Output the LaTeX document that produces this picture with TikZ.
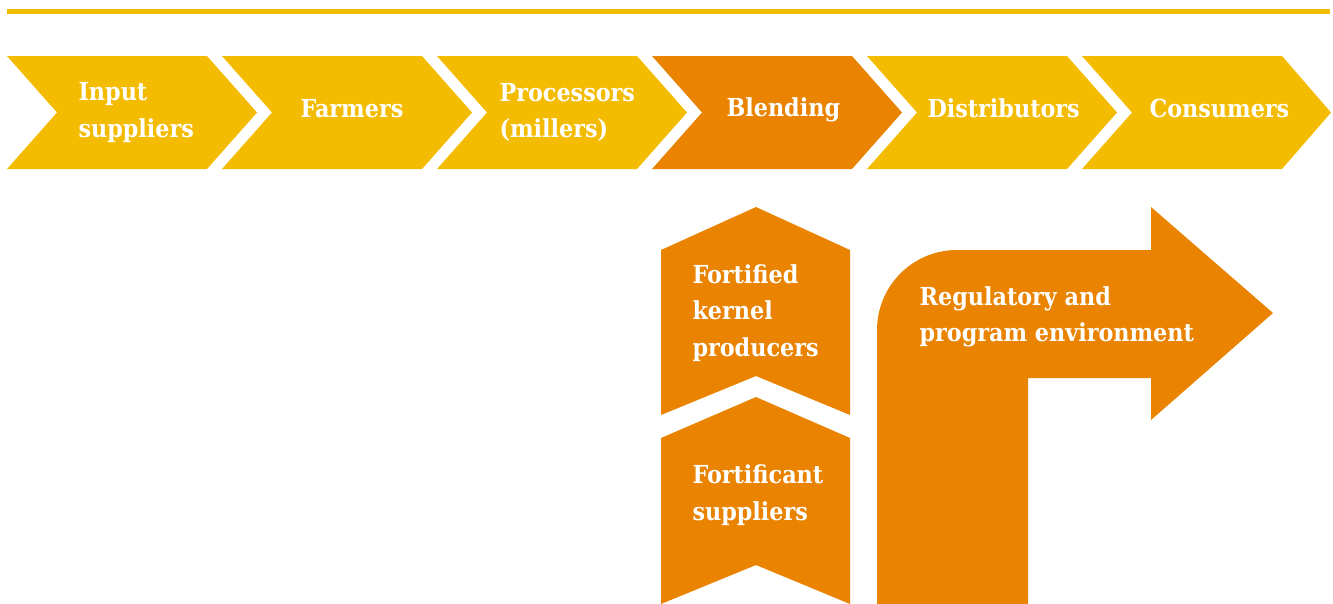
\documentclass[tikz,border=0pt]{standalone}
\usepackage{fontspec}
\setmainfont{DejaVu Serif Condensed}

\definecolor{chainyellow}{RGB}{244,188,0}
\definecolor{chainorange}{RGB}{233,131,0}

\tikzset{every picture/.style={line width=0.75pt}}
\tikzset{
  lbl/.style={text=white,inner sep=0pt,align=left,font=\fontsize{18.6pt}{27.4pt}\selectfont\bfseries},
}

\begin{document}
\begin{tikzpicture}[x=0.75pt,y=0.75pt,yscale=-1,xscale=1]
\path[use as bounding box] (0,0) rectangle (1333,603);

%Top rule
\fill [chainyellow] (7,8.5) rectangle (1330,13.5) ;

% Chevron
\fill [chainyellow] (7,56) -- (207,56) -- (257,112.5) -- (207,169) -- (7,169) -- (57,112.5) -- cycle ;
% Chevron
\fill [chainyellow] (222,56) -- (422,56) -- (472,112.5) -- (422,169) -- (222,169) -- (272,112.5) -- cycle ;
% Chevron
\fill [chainyellow] (437,56) -- (637,56) -- (687,112.5) -- (637,169) -- (437,169) -- (487,112.5) -- cycle ;
% Chevron
\fill [chainorange] (652,56) -- (852,56) -- (902,112.5) -- (852,169) -- (652,169) -- (702,112.5) -- cycle ;
% Chevron
\fill [chainyellow] (867,56) -- (1067,56) -- (1117,112.5) -- (1067,169) -- (867,169) -- (917,112.5) -- cycle ;
% Chevron
\fill [chainyellow] (1082,56) -- (1282,56) -- (1331,112.5) -- (1282,169) -- (1082,169) -- (1132,112.5) -- cycle ;

% Pentagon
\fill [chainorange] (661,250) -- (756,207) -- (850,250) -- (850,415) -- (756,376) -- (661,415) -- cycle ;
% Pentagon
\fill [chainorange] (661,438) -- (756,397) -- (850,438) -- (850,604) -- (756,565) -- (661,604) -- cycle ;

% Bent arrow
\fill [chainorange] (877,604) -- (877,330) .. controls (877,285.8) and (912.8,250) .. (957,250) -- (1151,250) -- (1151,207) -- (1273,313) -- (1151,420) -- (1151,378) -- (1028,378) -- (1028,604) -- cycle ;

% Text Node
\node [lbl, anchor=west] (input) at (78,112.5) {Input\\suppliers};
% Text Node
\node [lbl, anchor=base west] (farmers) at (300,117) {Farmers};
% Text Node
\node [lbl, anchor=west] (processors) at (499,112.5) {Processors\\(millers)};
% Text Node
\node [lbl, anchor=base west] (blending) at (726,116) {Blending};
% Text Node
\node [lbl, anchor=base west] (distributors) at (927,117) {Distributors};
% Text Node
\node [lbl, anchor=base west] (consumers) at (1149,117) {Consumers};
% Text Node
\node [lbl, anchor=west] (kernel) at (692,313) {Fortified\\kernel\\producers};
% Text Node
\node [lbl, anchor=west] (fortificant) at (692,495) {Fortificant\\suppliers};
% Text Node
\node [lbl, anchor=west] (regulatory) at (919,317) {Regulatory and\\program environment};

\end{tikzpicture}
\end{document}
